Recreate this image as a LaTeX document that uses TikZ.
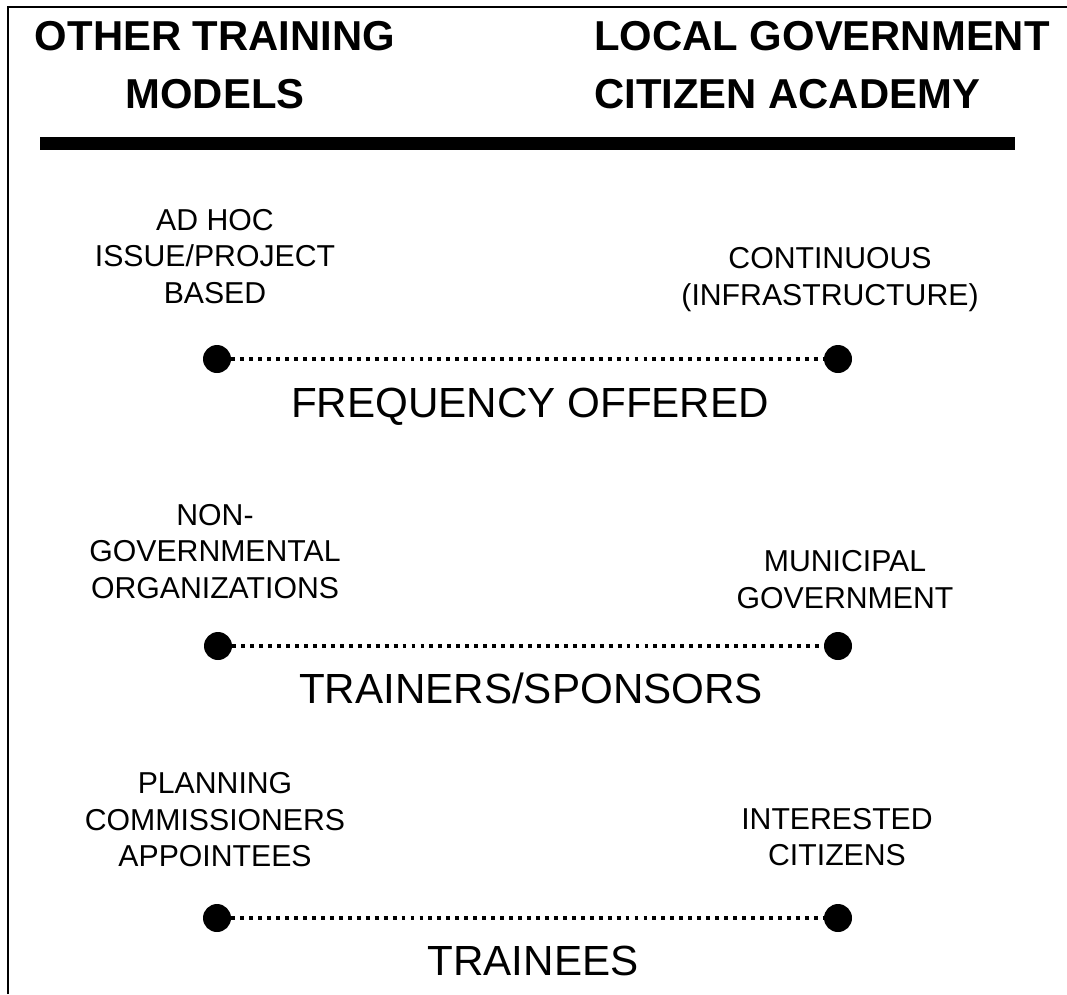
\documentclass[tikz,border=0pt]{standalone}
\usepackage{fontspec}
\setmainfont{Liberation Sans}

\tikzset{
  headtext/.style={font=\fontsize{23.8}{32.5}\selectfont\bfseries, inner sep=0pt},
  endtext/.style={font=\fontsize{17.2}{20.5}\selectfont, align=center, inner sep=0pt, anchor=base},
  axistext/.style={font=\fontsize{24}{28}\selectfont, inner sep=0pt, anchor=base},
  enddot/.style={circle, fill=black, inner sep=0pt, minimum size=0.56cm},
  dotline/.style={line width=2.2pt, dash pattern=on 2.2pt off 2.9pt}
}

\begin{document}
\begin{tikzpicture}[x=0.02cm,y=-0.02cm]
\useasboundingbox (0,0) rectangle (1067,994);
% frame and header
\draw[line width=1.7pt] (8,994) -- (8,7) -- (1067,7);
\node[headtext, align=center, anchor=base] (hleft) at (215,108) {OTHER TRAINING\\MODELS};
\node[headtext, align=left, anchor=base west] (hright) at (594,108) {LOCAL GOVERNMENT\\CITIZEN ACADEMY};
\draw[line width=0.26cm] (40,143) -- (1015,143);
% frequency
\node[endtext] (freqL) at (215,303) {AD HOC\\ISSUE/PROJECT\\BASED};
\node[endtext] (freqR) at (830,305) {CONTINUOUS\\(INFRASTRUCTURE)};
\node[enddot] (fl) at (217,359) {};
\node[enddot] (fr) at (838,359) {};
\draw[dotline] (fl) -- (fr);
\node[axistext] (freq) at (530,417) {FREQUENCY OFFERED};
% trainers
\node[endtext] (trainL) at (215,598) {NON-\\GOVERNMENTAL\\ORGANIZATIONS};
\node[endtext] (trainR) at (845,608) {MUNICIPAL\\GOVERNMENT};
\node[enddot] (tl) at (218,646) {};
\node[enddot] (tr) at (838,646) {};
\draw[dotline] (tl) -- (tr);
\node[axistext] (train) at (531,703) {TRAINERS/SPONSORS};
% trainees
\node[endtext] (peopleL) at (215,866) {PLANNING\\COMMISSIONERS\\APPOINTEES};
\node[endtext] (peopleR) at (837,865) {INTERESTED\\CITIZENS};
\node[enddot] (pl) at (217,918) {};
\node[enddot] (pr) at (838,918) {};
\draw[dotline] (pl) -- (pr);
\node[axistext] (people) at (533,975) {TRAINEES};
\end{tikzpicture}
\end{document}
